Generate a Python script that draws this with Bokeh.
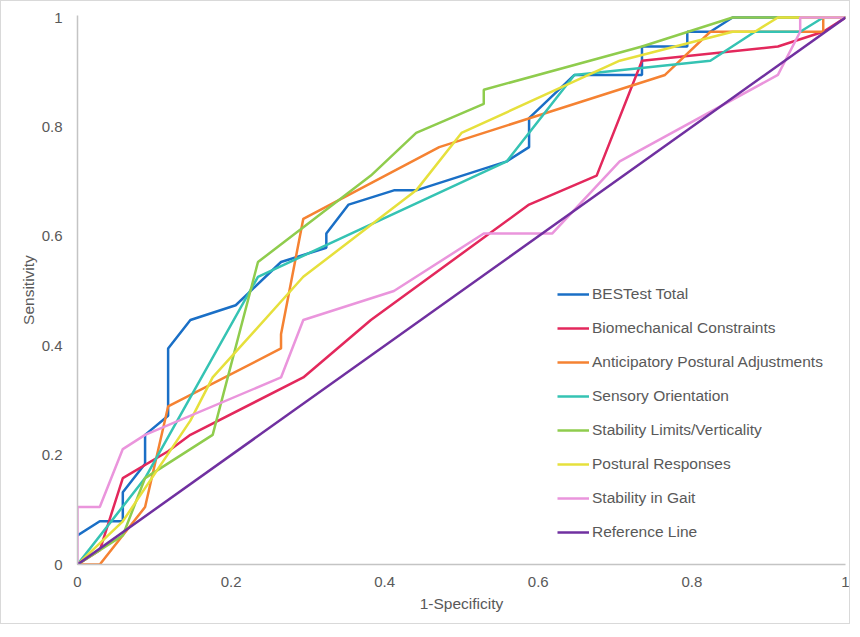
from bokeh.plotting import figure
from bokeh.models import Range1d, FixedTicker, NumeralTickFormatter
from bokeh.embed import file_html
from bokeh.resources import INLINE

# ---- data ----
best_x = [0, 0.029, 0.059, 0.059, 0.088, 0.088, 0.118, 0.118, 0.147, 0.206, 0.265, 0.324, 0.324,
          0.353, 0.412, 0.441, 0.559, 0.588, 0.588, 0.647, 0.735, 0.735, 0.794, 0.794, 0.824, 0.853, 1]
best_y = [0.053, 0.079, 0.079, 0.132, 0.184, 0.237, 0.272, 0.395, 0.447, 0.474, 0.553, 0.579, 0.605,
          0.658, 0.684, 0.684, 0.737, 0.763, 0.816, 0.895, 0.895, 0.947, 0.947, 0.974, 0.974, 1, 1]

bio_x = [0, 0.029, 0.059, 0.118, 0.147, 0.294, 0.382, 0.588, 0.676, 0.735, 0.912, 0.971, 1]
bio_y = [0, 0.026, 0.158, 0.207, 0.237, 0.342, 0.447, 0.658, 0.711, 0.921, 0.947, 0.974, 1]

apa_x = [0, 0.029, 0.088, 0.118, 0.265, 0.265, 0.294, 0.471, 0.765, 0.824, 0.971, 0.971, 1]
apa_y = [0, 0, 0.105, 0.289, 0.395, 0.421, 0.632, 0.763, 0.895, 0.974, 0.974, 1, 1]

sen_x = [0, 0.088, 0.235, 0.559, 0.647, 0.824, 0.882, 0.941, 0.971, 1]
sen_y = [0, 0.158, 0.526, 0.737, 0.895, 0.921, 0.974, 0.974, 1, 1]

slv_x = [0, 0.059, 0.088, 0.176, 0.235, 0.382, 0.441, 0.529, 0.529, 0.735, 0.853, 1]
slv_y = [0, 0.053, 0.158, 0.237, 0.553, 0.711, 0.789, 0.842, 0.868, 0.947, 1, 1]

pr_x = [0, 0.059, 0.147, 0.176, 0.294, 0.441, 0.5, 0.706, 0.853, 0.882, 0.912, 1]
pr_y = [0, 0.079, 0.263, 0.342, 0.526, 0.684, 0.789, 0.921, 0.974, 0.974, 1, 1]

gait_x = [0, 0, 0.029, 0.059, 0.088, 0.265, 0.294, 0.412, 0.529, 0.618, 0.706, 0.912, 0.941, 0.941, 1]
gait_y = [0, 0.105, 0.105, 0.211, 0.237, 0.342, 0.447, 0.5, 0.605, 0.605, 0.737, 0.895, 0.974, 1, 1]

ref_x = [0, 1]
ref_y = [0, 1]

series_names = ["BESTest Total", "Biomechanical Constraints", "Anticipatory Postural Adjustments",
                "Sensory Orientation", "Stability Limits/Verticality", "Postural Responses",
                "Stability in Gait", "Reference Line"]
series_colors = ["#1a6fc6", "#e3285c", "#f58232", "#35c3b3", "#8fcc4d", "#e6e03c", "#ea95dc", "#7030a0"]
series_data = [(best_x, best_y), (bio_x, bio_y), (apa_x, apa_y), (sen_x, sen_y),
               (slv_x, slv_y), (pr_x, pr_y), (gait_x, gait_y), (ref_x, ref_y)]

ticks = [0, 0.2, 0.4, 0.6, 0.8, 1]

TXT = "#595959"
FONT = "Liberation Sans"

p = figure(width=850, height=624, output_backend="svg", toolbar_location=None,
           x_range=Range1d(0, 1), y_range=Range1d(0, 1.00366),
           min_border_left=76, min_border_right=6, min_border_top=14, min_border_bottom=61)
p.styles = {"border": "1px solid #d9d9d9"}
p.outline_line_color = None
p.xgrid.visible = False
p.ygrid.visible = False

for (xs, ys), name, col in zip(series_data, series_names, series_colors):
    p.line(xs, ys, line_color=col, line_width=2.5, legend_label=name)

for ax in (p.xaxis[0], p.yaxis[0]):
    ax.ticker = FixedTicker(ticks=ticks)
    ax.formatter = NumeralTickFormatter(format="0.[0]")
    ax.major_tick_line_color = None
    ax.minor_tick_line_color = None
    ax.axis_line_color = "#c4c4c4"
    ax.axis_line_width = 1.5
    ax.major_label_text_color = TXT
    ax.major_label_text_font = FONT
    ax.major_label_text_font_size = "15px"
    ax.axis_label_text_color = TXT
    ax.axis_label_text_font = FONT
    ax.axis_label_text_font_size = "15.5px"
    ax.axis_label_text_font_style = "normal"

p.xaxis.axis_label = "1-Specificity"
p.yaxis.axis_label = "Sensitivity"
p.xaxis.major_label_standoff = 6
p.xaxis.axis_label_standoff = 5
p.yaxis.major_label_standoff = 9
p.yaxis.axis_label_standoff = 2

lg = p.legend[0]
lg.location = (480, 22)
lg.padding = 0
lg.margin = 0
lg.spacing = 14
lg.glyph_width = 32
lg.glyph_height = 20
lg.label_height = 20
lg.label_standoff = 3
lg.label_text_font = FONT
lg.label_text_font_size = "15.5px"
lg.label_text_color = TXT
lg.background_fill_alpha = 0
lg.border_line_alpha = 0

open("out.html", "w").write(file_html(p, INLINE))
